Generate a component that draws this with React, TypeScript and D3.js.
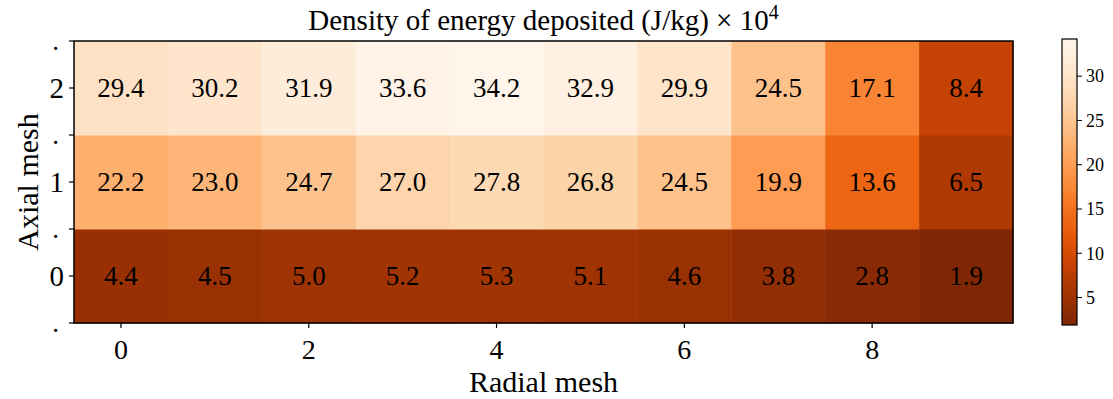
import * as d3 from "d3"

const radial = [0, 1, 2, 3, 4, 5, 6, 7, 8, 9]
const axial = [0, 1, 2]
const row0 = [4.4, 4.5, 5.0, 5.2, 5.3, 5.1, 4.6, 3.8, 2.8, 1.9]
const row1 = [22.2, 23.0, 24.7, 27.0, 27.8, 26.8, 24.5, 19.9, 13.6, 6.5]
const row2 = [29.4, 30.2, 31.9, 33.6, 34.2, 32.9, 29.9, 24.5, 17.1, 8.4]
const rows = [row0, row1, row2]
const xTicks = [0, 2, 4, 6, 8]
const yTicks = [0, 1, 2]
const yMinor = [-0.5, 0.5, 1.5, 2.5]
const cbTicks = [5, 10, 15, 20, 25, 30]

const W = 1113
const H = 399
const font = "'Liberation Serif', 'Times New Roman', serif"

export default function App() {
  const left = 74, right = 1013, top = 41, bottom = 323
  const x = d3.scaleLinear().domain([-0.5, 9.5]).range([left, right])
  const y = d3.scaleLinear().domain([-0.5, 2.5]).range([bottom, top])
  const vmin = d3.min(row0)!
  const vmax = d3.max(row2)!
  const color = d3.scaleSequential((t: number) => d3.interpolateOranges(1 - t)).domain([vmin, vmax])

  const cbX = 1062, cbW = 15, cbTop = 39, cbBottom = 325
  const cb = d3.scaleLinear().domain([vmin, vmax]).range([cbBottom, cbTop])
  const stops = d3.range(0, 1.0001, 0.05)

  const cells = rows.flatMap((r, j) => r.map((v, i) => ({ i: radial[i], j: axial[j], v })))

  return (
    <svg width={W} height={H} style={{ position: "absolute", left: 0, top: 0 }} fontFamily={font}>
      <defs>
        <linearGradient id="cbgrad" x1="0" y1="1" x2="0" y2="0">
          {stops.map((t) => (
            <stop key={t} offset={`${t * 100}%`} stopColor={d3.interpolateOranges(1 - t)} />
          ))}
        </linearGradient>
      </defs>

      {cells.map((c) => (
        <g key={`${c.i}-${c.j}`}>
          <rect
            x={x(c.i - 0.5)}
            y={y(c.j + 0.5)}
            width={x(c.i + 0.5) - x(c.i - 0.5) + 0.5}
            height={y(c.j - 0.5) - y(c.j + 0.5) + 0.5}
            fill={color(c.v)}
          />
          <text x={x(c.i)} y={y(c.j)} dy="0.35em" textAnchor="middle" fontSize={27} fill="#000">
            {c.v.toFixed(1)}
          </text>
        </g>
      ))}

      <rect x={left} y={top} width={right - left} height={bottom - top} fill="none" stroke="#000" strokeWidth={1.5} />

      {xTicks.map((t) => (
        <g key={t}>
          <line x1={x(t)} x2={x(t)} y1={bottom} y2={bottom + 5} stroke="#000" strokeWidth={1.2} />
          <text x={x(t)} y={bottom + 36} textAnchor="middle" fontSize={28}>{t}</text>
        </g>
      ))}
      {yTicks.map((t) => (
        <g key={t}>
          <line x1={left - 5} x2={left} y1={y(t)} y2={y(t)} stroke="#000" strokeWidth={1.2} />
          <text x={left - 10} y={y(t)} dy="0.35em" textAnchor="end" fontSize={29}>{t}</text>
        </g>
      ))}
      {yMinor.map((t) => (
        <g key={t}>
          <line x1={left - 5} x2={left} y1={y(t)} y2={y(t)} stroke="#000" strokeWidth={1.2} />
          <text x={left - 15} y={y(t)} dy="0.35em" textAnchor="end" fontSize={27}>.</text>
        </g>
      ))}

      <text x={(left + right) / 2} y={392} textAnchor="middle" fontSize={30}>Radial mesh</text>
      <text transform={`translate(38,${(top + bottom) / 2}) rotate(-90)`} textAnchor="middle" fontSize={30}>Axial mesh</text>
      <text x={(left + right) / 2} y={30} textAnchor="middle" fontSize={29}>
        Density of energy deposited (J/kg) × 10<tspan dy={-11} fontSize={20}>4</tspan>
      </text>

      <rect x={cbX} y={cbTop} width={cbW} height={cbBottom - cbTop} fill="url(#cbgrad)" stroke="#000" strokeWidth={1.2} />
      {cbTicks.map((t) => (
        <g key={t}>
          <line x1={cbX + cbW} x2={cbX + cbW + 5} y1={cb(t)} y2={cb(t)} stroke="#000" strokeWidth={1} />
          <text x={cbX + cbW + 9} y={cb(t)} dy="0.35em" fontSize={18}>{t}</text>
        </g>
      ))}
    </svg>
  )
}
